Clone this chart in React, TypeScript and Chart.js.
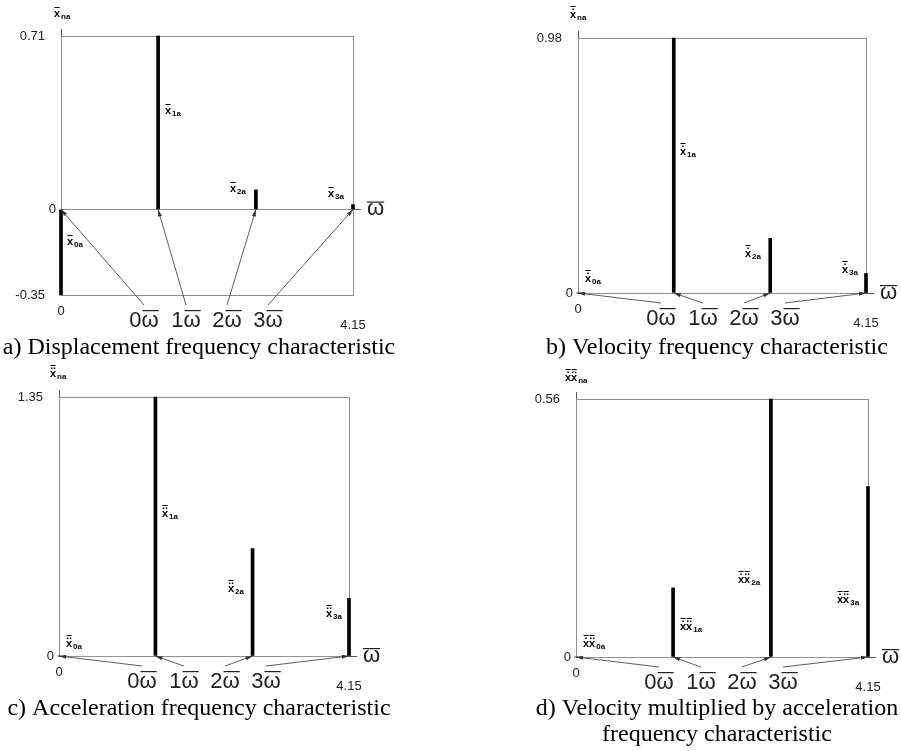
import React, { useEffect, useRef } from "react";
import { Chart, registerables } from "chart.js";

Chart.register(...registerables);

// ---------------- data ----------------
const harmonicOmega = [0, 1.38, 2.77, 4.15]; // positions of the harmonics on the ω axis
const omegaMin = 0;
const omegaMax = 4.15;
const xTickValues = [0, 4.15];
const xTickLabels = ["0", "4.15"];
const harmonicNames = ["0", "1", "2", "3"];
const harmonicSubs = ["0a", "1a", "2a", "3a"];

const displacementAmp = [-0.35, 0.71, 0.08, 0.02];
const velocityAmp = [0, 0.98, 0.21, 0.075];
const accelerationAmp = [0, 1.35, 0.56, 0.3];
const velAccAmp = [0, 0.15, 0.56, 0.37];

const displacementTicks = [-0.35, 0, 0.71];
const displacementTickLabels = ["-0.35", "0", "0.71"];
const velocityTicks = [0, 0.98];
const velocityTickLabels = ["0", "0.98"];
const accelerationTicks = [0, 1.35];
const accelerationTickLabels = ["0", "1.35"];
const velAccTicks = [0, 0.56];
const velAccTickLabels = ["0", "0.56"];

const captionA = ["a) Displacement frequency characteristic"];
const captionB = ["b) Velocity frequency characteristic"];
const captionC = ["c) Acceleration frequency characteristic"];
const captionD = ["d) Velocity multiplied by acceleration", "frequency characteristic"];

// ---------------- layout / style ----------------
const W = 901;
const H = 751;
const SANS = "'Liberation Sans', Arial, sans-serif";
const SERIF = "'Liberation Serif', 'Times New Roman', serif";
const BOX = "#909090";
const INK = "#222";

type Spec = {
  values: number[];
  ticks: number[];
  tickLabels: string[];
  dots: number[];
  caption: string[];
  area: { left: number; top: number; right: number; bottom: number };
  nameAt: [number, number];
  labelAt: [number, number][];
  captionX: number;
  captionY: number[];
};

const panels: Spec[] = [
  {
    values: displacementAmp,
    ticks: displacementTicks,
    tickLabels: displacementTickLabels,
    dots: [0],
    caption: captionA,
    area: { left: 61, top: 36, right: 353, bottom: 295 },
    nameAt: [54, 17],
    labelAt: [[67, 245], [165, 114], [230, 192], [328, 197]],
    captionX: 199,
    captionY: [354],
  },
  {
    values: velocityAmp,
    ticks: velocityTicks,
    tickLabels: velocityTickLabels,
    dots: [1],
    caption: captionB,
    area: { left: 578, top: 38, right: 866, bottom: 293 },
    nameAt: [570, 18],
    labelAt: [[585, 282], [680, 155], [745, 257], [842, 273]],
    captionX: 717,
    captionY: [354],
  },
  {
    values: accelerationAmp,
    ticks: accelerationTicks,
    tickLabels: accelerationTickLabels,
    dots: [2],
    caption: captionC,
    area: { left: 59, top: 397, right: 349, bottom: 656 },
    nameAt: [50, 377],
    labelAt: [[66, 647], [162, 517], [228, 592], [326, 617]],
    captionX: 199,
    captionY: [715],
  },
  {
    values: velAccAmp,
    ticks: velAccTicks,
    tickLabels: velAccTickLabels,
    dots: [1, 2],
    caption: captionD,
    area: { left: 576, top: 399, right: 868, bottom: 657 },
    nameAt: [565, 381],
    labelAt: [[583, 647], [680, 630], [738, 583], [837, 603]],
    captionX: 717,
    captionY: [715, 741],
  },
];

const omegaLabelOffsets = [83, 125, 166, 207];

// ---------------- helpers ----------------
function drawArrow(ctx: CanvasRenderingContext2D, x1: number, y1: number, x2: number, y2: number) {
  ctx.beginPath();
  ctx.moveTo(x1, y1);
  ctx.lineTo(x2, y2);
  ctx.stroke();
  const a = Math.atan2(y2 - y1, x2 - x1);
  const L = 7;
  const w = 2;
  ctx.beginPath();
  ctx.moveTo(x2, y2);
  ctx.lineTo(x2 - L * Math.cos(a) + w * Math.sin(a), y2 - L * Math.sin(a) - w * Math.cos(a));
  ctx.lineTo(x2 - L * Math.cos(a) - w * Math.sin(a), y2 - L * Math.sin(a) + w * Math.cos(a));
  ctx.closePath();
  ctx.fill();
}

function drawSymbol(ctx: CanvasRenderingContext2D, x: number, y: number, dots: number[], sub: string) {
  ctx.fillStyle = "#000";
  ctx.textAlign = "left";
  ctx.textBaseline = "alphabetic";
  ctx.font = `bold 11px ${SANS}`;
  let cx = x;
  for (const d of dots) {
    const w = ctx.measureText("x").width;
    ctx.fillText("x", cx, y);
    ctx.fillRect(cx + 0.5, y - (d > 0 ? 12 : 10), w - 1, 1);
    if (d === 1) ctx.fillRect(cx + w / 2 - 0.75, y - 9.5, 1.5, 1.5);
    if (d === 2) {
      ctx.fillRect(cx + w / 2 - 2.2, y - 9.5, 1.5, 1.5);
      ctx.fillRect(cx + w / 2 + 0.7, y - 9.5, 1.5, 1.5);
    }
    cx += w;
  }
  ctx.font = `bold 8px ${SANS}`;
  ctx.fillText(sub, cx + 1, y + 2);
}

function makeOverlay(spec: Spec) {
  return {
    id: "overlay",
    afterDraw(chart: any) {
      const ctx: CanvasRenderingContext2D = chart.ctx;
      const xs = chart.scales.x;
      const ys = chart.scales.y;
      const { left, right, top, bottom } = chart.chartArea;
      const zeroY = ys.getPixelForValue(0);
      ctx.save();

      // small axis extensions
      ctx.strokeStyle = "#555";
      ctx.lineWidth = 1;
      ctx.beginPath();
      ctx.moveTo(Math.round(left) + 0.5, top);
      ctx.lineTo(Math.round(left) + 0.5, top - 7);
      ctx.moveTo(right, Math.round(zeroY) + 0.5);
      ctx.lineTo(right + 8, Math.round(zeroY) + 0.5);
      ctx.stroke();

      // axis ω̄ symbol
      ctx.fillStyle = INK;
      ctx.font = `22px ${SANS}`;
      ctx.textAlign = "left";
      ctx.textBaseline = "alphabetic";
      const ow = ctx.measureText("ω").width;
      ctx.fillText("ω", right + 14, zeroY + 6);
      ctx.fillRect(right + 14, zeroY - 8, ow, 1.2);

      // y tick labels
      ctx.font = `13px ${SANS}`;
      ctx.textAlign = "right";
      ctx.textBaseline = "middle";
      spec.ticks.forEach((v, i) => {
        const off = v === 0 ? 5 : 16;
        ctx.fillText(spec.tickLabels[i], left - off, ys.getPixelForValue(v));
      });
      // x tick labels
      ctx.textAlign = "center";
      xTickValues.forEach((v, i) => {
        const dy = i === 0 ? 16 : 30;
        ctx.fillText(xTickLabels[i], xs.getPixelForValue(v), bottom + dy);
      });

      // harmonic labels n ω̄ with arrows to the bar bases
      ctx.strokeStyle = "#333";
      ctx.lineWidth = 0.8;
      harmonicOmega.forEach((w, i) => {
        const cx = left + omegaLabelOffsets[i];
        const bx = xs.getPixelForValue(w);
        ctx.fillStyle = "#333";
        drawArrow(ctx, cx, bottom + 10, bx, zeroY);
        ctx.fillStyle = INK;
        ctx.font = `22px ${SANS}`;
        ctx.textAlign = "left";
        ctx.textBaseline = "alphabetic";
        const txt = harmonicNames[i] + "ω";
        const wt = ctx.measureText(txt).width;
        const wn = ctx.measureText(harmonicNames[i]).width;
        const wo = ctx.measureText("ω").width;
        const sx = cx - wt / 2;
        const base = bottom + 32;
        ctx.fillText(txt, sx, base);
        ctx.fillRect(sx + wn + 1, base - 17, wo - 1, 1.2);
      });

      // amplitude symbols
      drawSymbol(ctx, spec.nameAt[0], spec.nameAt[1], spec.dots, "na");
      spec.labelAt.forEach((p, i) => drawSymbol(ctx, p[0], p[1], spec.dots, harmonicSubs[i]));

      // caption
      ctx.fillStyle = "#000";
      ctx.font = `24px ${SERIF}`;
      ctx.textAlign = "center";
      ctx.textBaseline = "alphabetic";
      spec.caption.forEach((line, i) => ctx.fillText(line, spec.captionX, spec.captionY[i]));

      ctx.restore();
    },
  };
}

function buildConfig(spec: Spec): any {
  const a = spec.area;
  return {
    type: "bar",
    data: {
      datasets: [
        {
          data: harmonicOmega.map((x, i) => ({ x, y: spec.values[i] })),
          backgroundColor: "#000",
          borderWidth: 0,
          barThickness: 3,
          clip: false,
        },
      ],
    },
    options: {
      animation: false,
      responsive: false,
      devicePixelRatio: 1,
      events: [],
      layout: { padding: { left: a.left, top: a.top, right: W - a.right, bottom: H - a.bottom } },
      plugins: { legend: { display: false }, tooltip: { enabled: false }, title: { display: false } },
      scales: {
        x: {
          type: "linear",
          min: omegaMin,
          max: omegaMax,
          offset: false,
          afterBuildTicks: (s: any) => {
            s.ticks = xTickValues.map((v) => ({ value: v }));
          },
          ticks: { display: false },
          grid: { display: true, offset: false, drawTicks: false, color: BOX, lineWidth: 1 },
          border: { display: true, color: BOX, width: 1 },
        },
        y: {
          type: "linear",
          min: spec.ticks[0],
          max: spec.ticks[spec.ticks.length - 1],
          afterBuildTicks: (s: any) => {
            s.ticks = spec.ticks.map((v) => ({ value: v }));
          },
          ticks: { display: false },
          grid: { display: true, drawTicks: false, color: BOX, lineWidth: 1 },
          border: { display: true, color: BOX, width: 1 },
        },
      },
    },
    plugins: [makeOverlay(spec)],
  };
}

function Panel({ spec }: { spec: Spec }) {
  const ref = useRef<HTMLCanvasElement>(null);
  useEffect(() => {
    if (!ref.current) return;
    const chart = new Chart(ref.current, buildConfig(spec));
    return () => chart.destroy();
  }, [spec]);
  return (
    <canvas
      ref={ref}
      width={W}
      height={H}
      style={{ position: "absolute", left: 0, top: 0, width: W, height: H }}
    />
  );
}

export default function App() {
  return (
    <div style={{ position: "absolute", left: 0, top: 0, width: W, height: H, background: "#fff", overflow: "hidden" }}>
      {panels.map((p, i) => (
        <Panel key={i} spec={p} />
      ))}
    </div>
  );
}
